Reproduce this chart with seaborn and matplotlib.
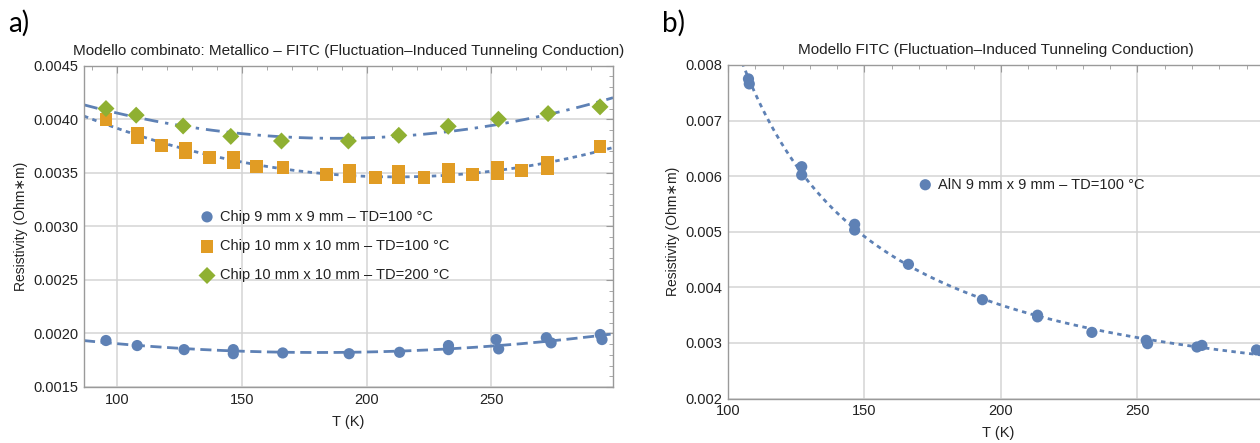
import numpy as np
import pandas as pd
import matplotlib
matplotlib.use("Agg")
import matplotlib.pyplot as plt
from matplotlib.ticker import MultipleLocator, FormatStrFormatter
import seaborn as sns

# ---------------- data ----------------
T_chip9 = [95.6, 108.1, 126.9, 146.6, 146.6, 166.4, 193.0, 213.2, 232.8, 232.8,
           251.9, 252.9, 272.0, 273.9, 293.6, 294.3]
rho_chip9 = [0.001934, 0.001887, 0.001849, 0.001849, 0.001811, 0.001818, 0.001811,
             0.001824, 0.001887, 0.001849, 0.001943, 0.001856, 0.001960, 0.001912,
             0.001990, 0.001943]

T_chip10_100 = [95.6, 108.1, 108.1, 117.7, 127.4, 127.4, 137.0, 146.6, 146.6, 156.0,
                166.5, 184.0, 193.1, 193.1, 203.5, 212.9, 212.9, 223.0, 232.7, 232.7,
                242.5, 252.5, 252.5, 262.0, 272.5, 272.5, 293.5]
rho_chip10_100 = [0.003997, 0.003870, 0.003830, 0.003756, 0.003731, 0.003684, 0.003646,
                  0.003641, 0.003594, 0.003559, 0.003550, 0.003484, 0.003522, 0.003466,
                  0.003453, 0.003515, 0.003453, 0.003453, 0.003528, 0.003466, 0.003484,
                  0.003553, 0.003491, 0.003522, 0.003594, 0.003538, 0.003747]

T_chip10_200 = [95.6, 107.7, 126.5, 145.6, 165.9, 192.7, 212.9, 232.7, 252.8, 272.7, 293.5]
rho_chip10_200 = [0.004100, 0.004038, 0.003937, 0.003840, 0.003797, 0.003797, 0.003850,
                  0.003934, 0.004000, 0.004053, 0.004116]

T_aln = [107.5, 107.8, 127.0, 127.0, 146.4, 146.4, 166.1, 193.2, 213.4, 213.4, 233.3,
         253.2, 253.7, 271.8, 273.6, 293.6]
rho_aln = [0.00775, 0.00766, 0.006171, 0.006022, 0.005135, 0.005032, 0.004415, 0.003779,
           0.003500, 0.003470, 0.003191, 0.003048, 0.002988, 0.002928, 0.002957, 0.002876]

label_chip9 = "Chip 9 mm x 9 mm \u2013 TD=100 \u00b0C"
label_chip10_100 = "Chip 10 mm x 10 mm \u2013 TD=100 \u00b0C"
label_chip10_200 = "Chip 10 mm x 10 mm \u2013 TD=200 \u00b0C"
label_aln = "AlN 9 mm x 9 mm \u2013 TD=100 \u00b0C"

title_a = "Modello combinato: Metallico \u2013 FITC (Fluctuation\u2013Induced Tunneling Conduction)"
title_b = "Modello FITC (Fluctuation\u2013Induced Tunneling Conduction)"
xlabel = "T (K)"
ylabel = "Resistivity (Ohm\u2217m)"

# ---------------- style ----------------
sns.set_theme(style="white")
plt.rcParams["font.family"] = ["Liberation Sans", "DejaVu Sans"]

BLUE = "#5E81B5"
ORANGE = "#E19C24"
GREEN = "#8FB032"
FRAME = "#9a9a9a"
GRID = "#d4d4d4"
TXT = "#222222"

fig = plt.figure(figsize=(12.6, 4.43), dpi=100)
fig.patch.set_facecolor("white")

ax_a = fig.add_axes([84 / 1260, 1 - 387 / 443, (613 - 84) / 1260, (387 - 65.7) / 443])
ax_b = fig.add_axes([728 / 1260, 1 - 398.6 / 443, (1268.5 - 728) / 1260, (398.6 - 65) / 443])


def style_axes(ax):
    for sp in ax.spines.values():
        sp.set_color(FRAME)
        sp.set_linewidth(1.0)
        sp.set_visible(True)
    ax.grid(True, which="major", color=GRID, lw=1.1)
    ax.set_axisbelow(True)
    ax.tick_params(which="both", direction="in", top=True, right=True,
                   color=FRAME, labelcolor=TXT, labelsize=10.5)
    ax.tick_params(which="major", length=5, width=0.8, pad=4)
    ax.tick_params(which="minor", length=3, width=0.6)
    ax.set_xlabel(xlabel, fontsize=10.5, color=TXT, labelpad=6)
    ax.set_ylabel(ylabel, fontsize=10, color=TXT, labelpad=4)


def fit_line(ax, T, rho, x0, x1, deg, ls, logfit=False):
    T = np.asarray(T, float)
    rho = np.asarray(rho, float)
    xs = np.linspace(x0, x1, 300)
    if logfit:
        c = np.polyfit(1.0 / T, np.log(rho), deg)
        ys = np.exp(np.polyval(c, 1.0 / xs))
    else:
        c = np.polyfit(T, rho, deg)
        ys = np.polyval(c, xs)
    df = pd.DataFrame({"T": xs, "rho": ys})
    sns.lineplot(data=df, x="T", y="rho", ax=ax, color=BLUE, lw=2.0,
                 linestyle=ls, sort=False, errorbar=None, legend=False,
                 label="_nolegend_")


# ---------------- panel a ----------------
xa0, xa1 = 86.8, 298.7
style_axes(ax_a)
fit_line(ax_a, T_chip10_200, rho_chip10_200, xa0, xa1, 2, (0, (5, 2.5, 1.2, 2.5)))
fit_line(ax_a, T_chip10_100, rho_chip10_100, xa0, xa1, 2, (0, (1.6, 1.6)))
fit_line(ax_a, T_chip9, rho_chip9, xa0, xa1, 2, (0, (4, 2)))

sns.scatterplot(x=T_chip9, y=rho_chip9, ax=ax_a, color=BLUE, marker="o", s=65,
                edgecolor="none", label=label_chip9, zorder=5)
sns.scatterplot(x=T_chip10_100, y=rho_chip10_100, ax=ax_a, color=ORANGE, marker="s", s=85,
                edgecolor="none", label=label_chip10_100, zorder=5)
sns.scatterplot(x=T_chip10_200, y=rho_chip10_200, ax=ax_a, color=GREEN, marker="D", s=75,
                edgecolor="none", label=label_chip10_200, zorder=5)

ax_a.set_xlim(xa0, xa1)
ax_a.set_ylim(0.0015, 0.0045)
ax_a.xaxis.set_major_locator(MultipleLocator(50))
ax_a.xaxis.set_minor_locator(MultipleLocator(10))
ax_a.yaxis.set_major_locator(MultipleLocator(0.0005))
ax_a.yaxis.set_minor_locator(MultipleLocator(0.0001))
ax_a.yaxis.set_major_formatter(FormatStrFormatter("%.4f"))
ax_a.set_title(title_a, fontsize=11, color=TXT, pad=8)

leg_a = ax_a.legend(loc="upper left", bbox_to_anchor=(0.205, 0.57), frameon=False,
                    fontsize=10.5, handletextpad=0.3, labelspacing=1.05,
                    markerscale=1.0, handlelength=1.2, borderaxespad=0)
for t in leg_a.get_texts():
    t.set_color(TXT)

# ---------------- panel b ----------------
xb0, xb1 = 100, 298
style_axes(ax_b)
fit_line(ax_b, T_aln, rho_aln, 104, xb1, 2, (0, (1.6, 1.6)), logfit=True)
sns.scatterplot(x=T_aln, y=rho_aln, ax=ax_b, color=BLUE, marker="o", s=65,
                edgecolor="none", label=label_aln, zorder=5)
ax_b.set_xlim(xb0, xb1)
ax_b.set_ylim(0.002, 0.008)
ax_b.xaxis.set_major_locator(MultipleLocator(50))
ax_b.xaxis.set_minor_locator(MultipleLocator(10))
ax_b.yaxis.set_major_locator(MultipleLocator(0.001))
ax_b.yaxis.set_minor_locator(MultipleLocator(0.0002))
ax_b.yaxis.set_major_formatter(FormatStrFormatter("%.3f"))
ax_b.set_title(title_b, fontsize=11, color=TXT, pad=8)
ax_b.title.set_position((0.495, 1.0))

leg_b = ax_b.legend(loc="upper left", bbox_to_anchor=(0.338, 0.68), frameon=False,
                    fontsize=10.5, handletextpad=0.3, handlelength=1.2, borderaxespad=0)
for t in leg_b.get_texts():
    t.set_color(TXT)

# ---------------- panel letters ----------------
fig.text(8 / 1260, 1 - 10 / 443, "a)", fontsize=20, va="top", ha="left",
         family=["Lato", "DejaVu Sans"], color="black")
fig.text(662 / 1260, 1 - 10 / 443, "b)", fontsize=20, va="top", ha="left",
         family=["Lato", "DejaVu Sans"], color="black")

fig.savefig("out.png", dpi=100, facecolor="white")
